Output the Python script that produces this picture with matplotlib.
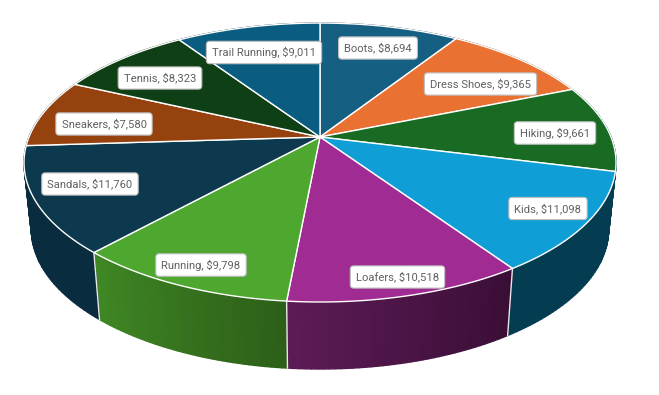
import matplotlib
matplotlib.use("Agg")
import matplotlib.pyplot as plt
import numpy as np

plt.rcParams['font.family'] = ['Roboto', 'DejaVu Sans']

# Datos
categorias = ["Boots", "Dress Shoes", "Hiking", "Kids", "Loafers", "Running",
              "Sandals", "Sneakers", "Tennis", "Trail Running"]
ventas = [8694, 9365, 9661, 11098, 10518, 9798, 11760, 7580, 8323, 9011]

# Colores de la cara superior y del lateral (inicio y fin del degradado)
colores = ["#156082", "#E97132", "#196B24", "#0F9ED5", "#A02B93",
           "#4EA72E", "#0D394E", "#95420E", "#0F4015", "#0A5C80"]
lateral_ini = ["#0D3A4E", "#8C441E", "#043D52", "#043D52", "#3A0E36",
               "#2D5F18", "#0A2C3F", "#0A2C3F", "#09260D", "#06374D"]
lateral_fin = ["#0D3A4E", "#8C441E", "#043D52", "#043D52", "#5C1B55",
               "#3F8724", "#0A2C3F", "#0A2C3F", "#09260D", "#06374D"]

# Centro de las etiquetas en pixeles
pos_etiquetas = [(378, 48), (480.5, 84), (555, 133), (548, 208.5), (397.5, 277),
                 (201, 265), (90, 184), (104, 124), (160, 78), (264, 52.5)]

# Parametros de la perspectiva del disco
cx, cy = 320, 137
a, b, k = 291, 134.8, 0.183
grosor = 67
escala_base = 0.975


def disco(t):
    # t en radianes desde arriba, sentido horario
    X = np.sin(t)
    Y = -np.cos(t)
    d = 1 - k * Y
    return a * X / d, b * Y / d


def borde_sup(t):
    x, y = disco(t)
    return cx + x, cy + y


def borde_inf(t):
    x, y = disco(t)
    return cx + escala_base * x, cy + y + grosor


def mezcla(c1, c2, f):
    c1 = np.array(matplotlib.colors.to_rgb(c1))
    c2 = np.array(matplotlib.colors.to_rgb(c2))
    return tuple(c1 + (c2 - c1) * f)


fig = plt.figure(figsize=(6.59, 3.95), dpi=100)
ax = fig.add_axes([0, 0, 1, 1])
ax.set_xlim(0, 659)
ax.set_ylim(395, 0)
ax.axis("off")

fracciones = np.array(ventas) / sum(ventas)
cortes = np.concatenate([[0], np.cumsum(fracciones)]) * 2 * np.pi

# Lateral del cilindro
for i in range(len(ventas)):
    t = np.linspace(cortes[i], cortes[i + 1], 41)
    for j in range(40):
        x1, y1 = borde_sup(t[j:j + 2])
        x2, y2 = borde_inf(t[j:j + 2])
        color = mezcla(lateral_ini[i], lateral_fin[i], j / 39)
        ax.fill(np.r_[x1, x2[::-1]], np.r_[y1, y2[::-1]], color=color, lw=1.0, zorder=1)

# Separaciones visibles del lateral
for corte in cortes[:-1]:
    if np.cos(corte) < -0.3:
        x1, y1 = borde_sup(corte)
        x2, y2 = borde_inf(corte)
        ax.plot([x1, x2], [y1, y2], color="#E8E8E8", lw=1, zorder=2)

# Cara superior
for i in range(len(ventas)):
    t = np.linspace(cortes[i], cortes[i + 1], 80)
    x, y = borde_sup(t)
    ax.fill(np.r_[cx, x], np.r_[cy, y], facecolor=colores[i], edgecolor="white",
            lw=1.0, joinstyle="round", zorder=3)

# Etiquetas
for i in range(len(ventas)):
    texto = f"{categorias[i]}, ${ventas[i]:,}"
    ax.text(pos_etiquetas[i][0], pos_etiquetas[i][1], texto, fontsize=8.1,
            color="#606060", ha="center", va="center", zorder=4,
            bbox=dict(boxstyle="round,pad=0.5,rounding_size=0.3", fc="white",
                      ec="#BFBFBF", lw=0.8))

fig.savefig("out.png", dpi=100, facecolor="white")
